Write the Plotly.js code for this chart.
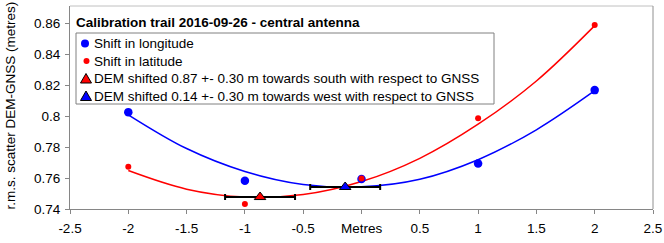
<!DOCTYPE html>
<html>
<head>
<meta charset="utf-8">
<script src="https://cdn.plot.ly/plotly-3.0.1.min.js"></script>
<style>
html,body{margin:0;padding:0;background:#fff;}
#chart{width:664px;height:243px;}
</style>
</head>
<body>
<div id="chart"></div>
<script>
// ---- data ----
const shiftX = [-2, -1, 0, 1, 2];
const longitudeRms = [0.8025, 0.7583, 0.7593, 0.7694, 0.8167];
const latitudeRms = [0.7673, 0.7432, 0.7596, 0.7985, 0.8587];

const fitX = [-2, -1.5, -1, -0.5, 0, 0.5, 1, 1.5, 2];
const longitudeFit = [0.8008, 0.7790, 0.7642, 0.7558, 0.7543, 0.7592, 0.7718, 0.7911, 0.8163];
const latitudeFit = [0.7648, 0.7528, 0.7477, 0.7493, 0.7577, 0.7727, 0.7947, 0.8226, 0.8583];

const demShiftX = [-0.87, -0.14];
const demShiftY = [0.7477, 0.7542];
const demShiftErr = [0.30, 0.30];

const legendLabels = [
  'Shift in longitude',
  'Shift in latitude',
  'DEM shifted 0.87 +- 0.30 m towards south with respect to GNSS',
  'DEM shifted 0.14 +- 0.30 m towards west with respect to GNSS'
];
const chartTitle = 'Calibration trail 2016-09-26 - central antenna';
const yTitle = 'r.m.s. scatter DEM-GNSS (metres)';
const xTitle = 'Metres';

const xTickVals = [-2.5, -2, -1.5, -1, -0.5, 0, 0.5, 1, 1.5, 2, 2.5];
const xTickText = ['-2.5', '-2', '-1.5', '-1', '-0.5', '', '0.5', '1', '1.5', '2', '2.5'];
const yTickVals = [0.74, 0.76, 0.78, 0.8, 0.82, 0.84, 0.86];
const yTickText = ['0.74', '0.76', '0.78', '0.8', '0.82', '0.84', '0.86'];

// ---- layout geometry (pixels) ----
const W = 664, H = 243;
const L = 70, R = 11, T = 6, B = 34;
const PW = W - L - R, PH = H - T - B;
const px2x = p => (p - L) / PW;
const py2y = p => (H - B - p) / PH;

const FONT = 'Liberation Sans, Arial, sans-serif';
const FS = 13.5;
const BLUE = '#0000ff', RED = '#ff0000';

const traces = [
  {x: fitX, y: longitudeFit, mode: 'lines', line: {color: BLUE, width: 1.5, shape: 'spline'}, showlegend: false, hoverinfo: 'skip'},
  {x: fitX, y: latitudeFit, mode: 'lines', line: {color: RED, width: 1.5, shape: 'spline'}, showlegend: false, hoverinfo: 'skip'},
  {x: shiftX, y: longitudeRms, mode: 'markers', marker: {color: BLUE, size: 8.5}, name: legendLabels[0], showlegend: false},
  {x: shiftX, y: latitudeRms, mode: 'markers', marker: {color: RED, size: 6}, name: legendLabels[1], showlegend: false},
  {x: [demShiftX[0]], y: [demShiftY[0]], mode: 'markers', name: legendLabels[2], showlegend: false,
   marker: {symbol: 'triangle-up', color: RED, size: 10, line: {color: '#000', width: 1}},
   error_x: {type: 'data', array: [demShiftErr[0]], color: '#000', thickness: 2, width: 3}},
  {x: [demShiftX[1]], y: [demShiftY[1]], mode: 'markers', name: legendLabels[3], showlegend: false,
   marker: {symbol: 'triangle-up', color: BLUE, size: 10, line: {color: '#000', width: 1}},
   error_x: {type: 'data', array: [demShiftErr[1]], color: '#000', thickness: 2, width: 3}}
];

// legend drawn by hand (box, symbols, text)
const legendRowY = [43.5, 61, 78.5, 96];
const shapes = [
  {type: 'line', xref: 'paper', yref: 'paper', x0: 0, x1: 1, y0: 1, y1: 1, line: {color: '#c0c0c0', width: 1}},
  {type: 'line', xref: 'paper', yref: 'paper', x0: 1, x1: 1, y0: 0, y1: 1, line: {color: '#909090', width: 1}},
  {type: 'rect', xref: 'paper', yref: 'paper', x0: px2x(76), x1: px2x(494), y0: py2y(104), y1: py2y(33),
   fillcolor: '#fff', line: {color: '#808080', width: 1}},
  {type: 'circle', xref: 'paper', yref: 'paper', x0: px2x(85 - 4), x1: px2x(85 + 4), y0: py2y(legendRowY[0] + 4), y1: py2y(legendRowY[0] - 4),
   fillcolor: BLUE, line: {width: 0}},
  {type: 'circle', xref: 'paper', yref: 'paper', x0: px2x(86.5 - 3), x1: px2x(86.5 + 3), y0: py2y(legendRowY[1] + 3), y1: py2y(legendRowY[1] - 3),
   fillcolor: RED, line: {width: 0}}
];
function tri(cy, color) {
  const l = px2x(80.5), r = px2x(91.5), c = px2x(86);
  const b = py2y(cy + 4.5), t = py2y(cy - 5);
  return {type: 'path', xref: 'paper', yref: 'paper', path: `M ${l} ${b} L ${r} ${b} L ${c} ${t} Z`,
    fillcolor: color, line: {color: '#000', width: 1}};
}
shapes.push(tri(legendRowY[2], RED));
shapes.push(tri(legendRowY[3], BLUE));

const annotations = legendLabels.map((t, i) => ({
  text: t, xref: 'paper', yref: 'paper', x: px2x(93.5), y: py2y(legendRowY[i]),
  xanchor: 'left', yanchor: 'middle', showarrow: false, borderpad: 0, borderwidth: 0,
  font: {family: FONT, size: FS, color: '#000'}
}));
annotations.push({
  text: '<b>' + chartTitle + '</b>', xref: 'paper', yref: 'paper', x: px2x(76), y: py2y(22),
  xanchor: 'left', yanchor: 'middle', showarrow: false, borderpad: 0, borderwidth: 0,
  font: {family: FONT, size: FS, color: '#000'}
});
annotations.push({
  text: yTitle, xref: 'paper', yref: 'paper', x: px2x(10), y: py2y(105.5), textangle: -90,
  xanchor: 'center', yanchor: 'middle', showarrow: false, borderpad: 0, borderwidth: 0,
  font: {family: FONT, size: FS, color: '#000'}
});
annotations.push({
  text: xTitle, xref: 'x', yref: 'paper', x: 0, y: py2y(228.5),
  xanchor: 'center', yanchor: 'middle', showarrow: false, borderpad: 0, borderwidth: 0,
  font: {family: FONT, size: FS, color: '#000'}
});

const layout = {
  width: W, height: H,
  margin: {l: L, r: R, t: T, b: B, pad: 0},
  paper_bgcolor: '#fff', plot_bgcolor: '#fff',
  showlegend: false,
  font: {family: FONT, size: FS, color: '#000'},
  xaxis: {
    range: [-2.5, 2.5], tickmode: 'array', tickvals: xTickVals, ticktext: xTickText,
    showgrid: false, zeroline: false, showline: true, linecolor: '#868686', linewidth: 1,
    ticks: 'outside', ticklen: 4, tickcolor: '#868686', tickwidth: 1, ticklabelstandoff: 3,
    tickfont: {family: FONT, size: FS, color: '#000'}, fixedrange: true
  },
  yaxis: {
    range: [0.74, 0.74 + PH / 1550], tickmode: 'array', tickvals: yTickVals, ticktext: yTickText,
    showgrid: false, zeroline: false, showline: true, linecolor: '#868686', linewidth: 1,
    ticks: 'outside', ticklen: 4, tickcolor: '#868686', tickwidth: 1, ticklabelstandoff: 2,
    tickfont: {family: FONT, size: FS, color: '#000'}, fixedrange: true
  },
  shapes: shapes,
  annotations: annotations
};

Plotly.newPlot('chart', traces, layout, {staticPlot: true, displayModeBar: false});
</script>
</body>
</html>
